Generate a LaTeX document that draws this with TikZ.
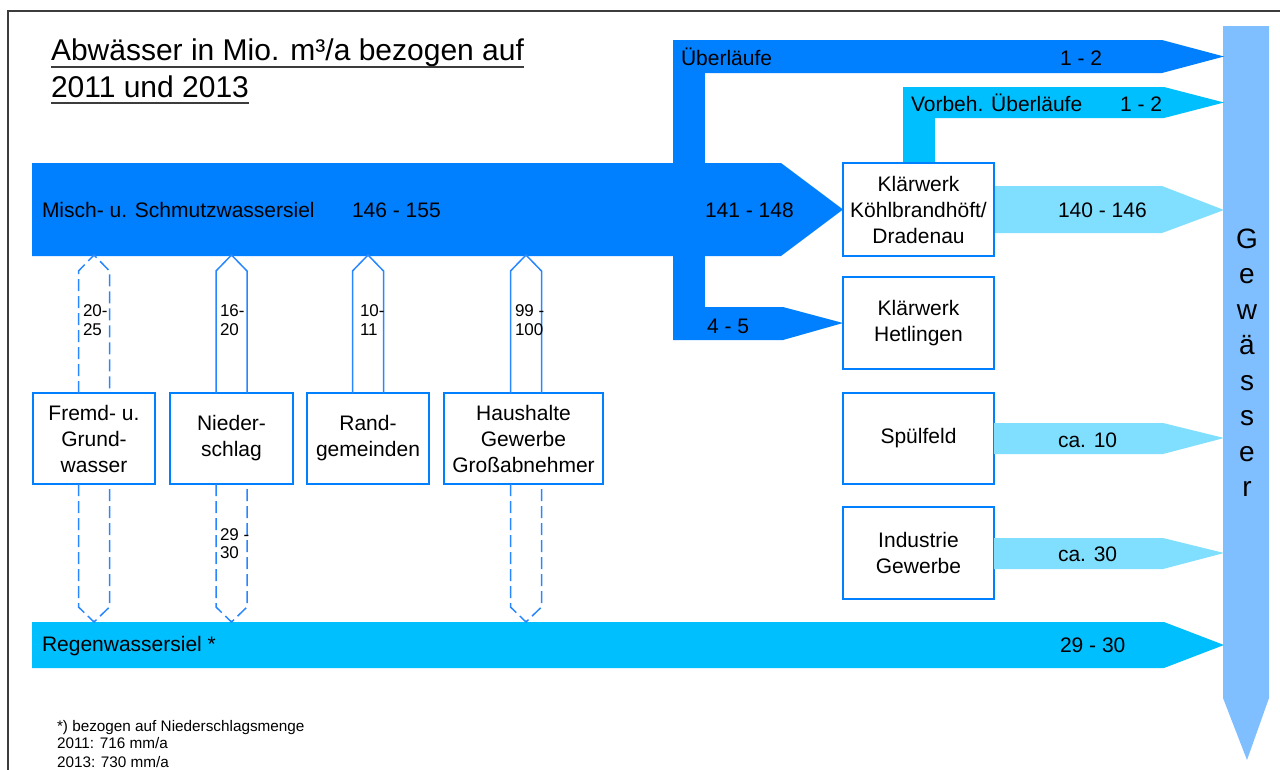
\documentclass[tikz,border=0pt]{standalone}
\usepackage{fontspec}
\setmainfont{Liberation Sans}
\usetikzlibrary{calc}
\definecolor{dblue}{RGB}{0,128,255}
\definecolor{mblue}{RGB}{0,191,255}
\definecolor{lblue}{RGB}{128,223,255}
\definecolor{gblue}{RGB}{128,191,255}
\definecolor{edgeblue}{RGB}{40,135,255}
\definecolor{framegray}{RGB}{60,60,60}
\tikzset{
  txt/.style={font=\fontsize{21}{26}\selectfont, inner sep=0pt, outer sep=0pt, anchor=base west},
  small/.style={font=\fontsize{17}{20}\selectfont, inner sep=0pt, outer sep=0pt, anchor=base west},
  foot/.style={font=\fontsize{15.3}{18}\selectfont, inner sep=0pt, outer sep=0pt, anchor=base west},
  titletxt/.style={font=\fontsize{30}{34}\selectfont, inner sep=0pt, outer sep=0pt, anchor=base west},
  box/.style={draw=dblue, line width=1.5pt, fill=white, align=center, inner sep=0pt, outer sep=0pt, font=\fontsize{21}{26}\selectfont},
  dbl/.style={draw=edgeblue, line width=1.5pt},
  dsh/.style={dbl, dash pattern=on 12pt off 5pt},
  gtxt/.style={font=\fontsize{28}{30}\selectfont, inner sep=0pt, anchor=base},
}
\begin{document}
\begin{tikzpicture}[x=1pt,y=-1pt]
\useasboundingbox (0,0) rectangle (1280,769);
\clip (0,0) rectangle (1280,769);
\fill[white] (0,0) rectangle (1280,769);
% frame
\draw[framegray, line width=2pt] (8,800) -- (8,11) -- (1300,11);
% title
\node[titletxt] (t1) at (51,60) {Abwässer in Mio. m³/a bezogen auf};
\node[titletxt] (t2) at (51,97) {2011 und 2013};
\draw[line width=1.3pt, framegray] ($(t1.base west)+(0,7)$) -- ($(t1.base east)+(0,7)$);
\draw[line width=1.3pt, framegray] ($(t2.base west)+(0,6)$) -- ($(t2.base east)+(0,6)$);

% Gewaesser
\fill[gblue] (1223,26) -- (1269,26) -- (1269,698) -- (1247,760) -- (1223,698) -- cycle;
\foreach \l [count=\i] in {G,e,w,ä,s,s,e,r}
  \node[gtxt] (g\i) at (1247,{248+(\i-1)*35.5}) {\l};

% boxes
\node[box, minimum width=151pt, minimum height=93pt] (kw1) at (918.5,209.5) {Klärwerk\\Köhlbrandhöft/\\Dradenau};
\node[box, minimum width=151pt, minimum height=92pt] (kw2) at (918.5,323) {Klärwerk\\Hetlingen};
\node[box, minimum width=151pt, minimum height=91pt] (sp) at (918.5,438.5) {Spülfeld};
\node[box, minimum width=151pt, minimum height=92pt] (ind) at (918.5,553) {Industrie\\Gewerbe};

% main bar (Misch)
\fill[dblue] (32,163) -- (781,163) -- (kw1.west) -- (781,256) -- (32,256) -- cycle;
\fill[dblue] (673,40) rectangle (705,340);
\fill[dblue] (673,40) -- (1162,40) -- (1224,56.5) -- (1162,73) -- (673,73) -- cycle;
\fill[dblue] (673,307) -- (783,307) -- (kw2.west) -- (783,340) -- (673,340) -- cycle;
% Vorbeh
\fill[mblue] (903,87) rectangle (935,163);
\fill[mblue] (903,87) -- (1164,87) -- (1224,102.5) -- (1164,118) -- (903,118) -- cycle;
% light outlets
\fill[lblue] (994,186) -- (1162,186) -- (1224,210) -- (1162,233) -- (994,233) -- cycle;
\fill[lblue] (994,423) -- (1163,423) -- (1224,438) -- (1163,454) -- (994,454) -- cycle;
\fill[lblue] (994,538) -- (1163,538) -- (1224,553) -- (1163,569) -- (994,569) -- cycle;
% Regenwassersiel
\fill[mblue] (32,622) -- (1164,622) -- (1224,645) -- (1164,668) -- (32,668) -- cycle;

% redraw boxes on top
\node[box, minimum width=151pt, minimum height=93pt] at (kw1) {Klärwerk\\Köhlbrandhöft/\\Dradenau};
\node[box, minimum width=151pt, minimum height=92pt] at (kw2) {Klärwerk\\Hetlingen};

% source boxes
\node[box, minimum width=122pt, minimum height=91pt] (fr) at (94,438.5) {Fremd- u.\\Grund-\\wasser};
\node[box, minimum width=123pt, minimum height=91pt] (ni) at (231.5,438.5) {Nieder-\\schlag};
\node[box, minimum width=122pt, minimum height=91pt] (ra) at (368,438.5) {Rand-\\gemeinden};
\node[box, minimum width=159pt, minimum height=91pt] (hh) at (523.5,438.5) {Haushalte\\Gewerbe\\Großabnehmer};

% upward double-line arrows
\draw[dsh] ($(fr.north)+(-15.5,0)$) -- ++(0,-122) -- ++(15.5,-16) -- ++(15.5,16) -- ++(0,122);
\draw[dbl] ($(ni.north)+(-15.5,0)$) -- ++(0,-122) -- ++(15.5,-16) -- ++(15.5,16) -- ++(0,122);
\draw[dbl] ($(ra.north)+(-15.5,0)$) -- ++(0,-122) -- ++(15.5,-16) -- ++(15.5,16) -- ++(0,122);
\draw[dbl] ($(hh.north)+(-13,0)$) -- ++(0,-122) -- ++(15.5,-16) -- ++(15.5,16) -- ++(0,122);
% downward double-line arrows
\draw[dsh] ($(fr.south)+(-15.5,0)$) -- ++(0,123) -- ++(15.5,15) -- ++(15.5,-15) -- ++(0,-123);
\draw[dsh] ($(ni.south)+(-15.5,0)$) -- ++(0,123) -- ++(15.5,15) -- ++(15.5,-15) -- ++(0,-123);
\draw[dsh] ($(hh.south)+(-13,0)$) -- ++(0,123) -- ++(15.5,15) -- ++(15.5,-15) -- ++(0,-123);

% arrow labels
\node[small] (la1) at (83,316) {20-};
\node[small] (la2) at (83,335) {25};
\node[small] (lb1) at (220,316) {16-};
\node[small] (lb2) at (220,335) {20};
\node[small] (lc1) at (360,316) {10-};
\node[small] (lc2) at (360,335) {11};
\node[small] (ld1) at (515,316) {99 -};
\node[small] (ld2) at (515,335) {100};
\node[small] (le1) at (220,540) {29 -};
\node[small] (le2) at (220,558) {30};

% band texts
\node[txt] (m1) at (42,217) {Misch- u. Schmutzwassersiel};
\node[txt] (m2) at (352,217) {146 - 155};
\node[txt] (m3) at (705,217) {141 - 148};
\node[txt] (u1) at (681,65) {Überläufe};
\node[txt] (u2) at (1060,65) {1 - 2};
\node[txt] (v1) at (911,111) {Vorbeh. Überläufe};
\node[txt] (v2) at (1120,111) {1 - 2};
\node[txt] (k1) at (1058,217) {140 - 146};
\node[txt] (h1) at (707,333) {4 - 5};
\node[txt] (s1) at (1058,447) {ca. 10};
\node[txt] (i1) at (1058,561) {ca. 30};
\node[txt] (r1) at (42,651) {Regenwassersiel *};
\node[txt] (r2) at (1060,652) {29 - 30};

% footnote
\node[foot] (f1) at (57,731) {*) bezogen auf Niederschlagsmenge};
\node[foot] (f2) at (57,748) {2011: 716 mm/a};
\node[foot] (f3) at (57,767) {2013: 730 mm/a};
\end{tikzpicture}
\end{document}
